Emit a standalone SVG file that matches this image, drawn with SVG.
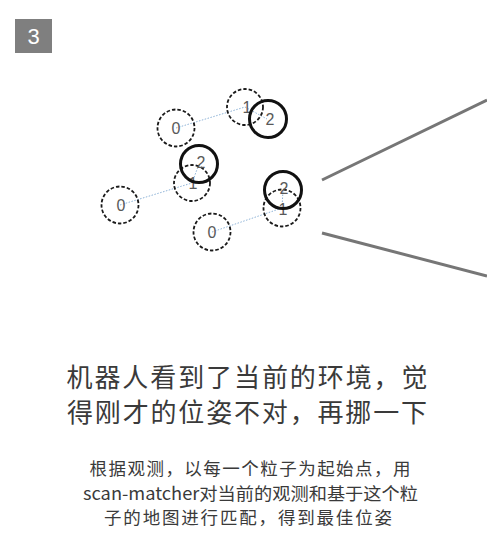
<svg xmlns="http://www.w3.org/2000/svg" width="487" height="553" viewBox="0 0 487 553">
<style>
.dash{fill:none;stroke:#1a1a1a;stroke-width:1.8;stroke-dasharray:3.5 2}
.solid{fill:none;stroke:#111;stroke-width:3}
.lbl{font-family:"Liberation Sans","Noto Sans",sans-serif;font-size:16px;fill:#595959;text-anchor:middle}
.link{stroke:#8fb4d8;stroke-width:1;stroke-dasharray:1.5 1.5;fill:none}
.ray{stroke:#767676;stroke-width:3;fill:none}
.title{font-family:"Noto Sans CJK SC",sans-serif;font-size:26px;fill:#3a3a3a;text-anchor:middle}
.sub{font-family:"Noto Sans CJK SC",sans-serif;font-size:17.5px;fill:#3a3a3a;text-anchor:middle}
</style>
<rect width="487" height="553" fill="#fff"/>
<g id="step-badge">
<rect x="15" y="19" width="37" height="34" fill="#7f7f7f"/>
<text x="33.5" y="44" font-family="Liberation Sans,sans-serif" font-size="22" fill="#fff" text-anchor="middle">3</text>
</g>
<g id="connectors">
<line class="link" x1="176" y1="128" x2="245" y2="107"/>
<line class="link" x1="245" y1="107" x2="267" y2="119"/>
<line class="link" x1="120" y1="205" x2="192" y2="183"/>
<line class="link" x1="192" y1="183" x2="199" y2="164"/>
<line class="link" x1="212" y1="232" x2="282" y2="208"/>
<line class="link" x1="282" y1="208" x2="283" y2="190"/>
<line class="ray" x1="322" y1="180" x2="487" y2="100"/>
<line class="ray" x1="322" y1="233" x2="487" y2="276"/>
</g>
<g id="particle-a">
<circle class="dash" cx="176" cy="128" r="18.5"/>
<text class="lbl" x="176" y="134">0</text>
<circle class="dash" cx="245" cy="107" r="18"/>
<text class="lbl" x="247" y="113">1</text>
<circle class="solid" cx="268" cy="119" r="18.5"/>
<text class="lbl" x="270" y="125">2</text>
</g>
<g id="particle-b">
<circle class="dash" cx="120" cy="205" r="18.5"/>
<text class="lbl" x="121" y="211">0</text>
<circle class="dash" cx="192" cy="183" r="18"/>
<text class="lbl" x="193" y="189">1</text>
<circle class="solid" cx="199" cy="164" r="18.5"/>
<text class="lbl" x="201" y="168">2</text>
</g>
<g id="particle-c">
<circle class="dash" cx="212" cy="232" r="18.5"/>
<text class="lbl" x="212" y="238">0</text>
<circle class="dash" cx="282" cy="208" r="18.5"/>
<text class="lbl" x="283" y="215">1</text>
<circle class="solid" cx="283" cy="190" r="18.5"/>
<text class="lbl" x="284" y="194">2</text>
</g>
<g id="title">
<text class="title" x="247" y="387" textLength="361" lengthAdjust="spacing">机器人看到了当前的环境，觉</text>
<text class="title" x="247" y="422" textLength="360" lengthAdjust="spacing">得刚才的位姿不对，再挪一下</text>
</g>
<g id="description">
<text class="sub" x="250" y="475" textLength="321" lengthAdjust="spacing">根据观测，以每一个粒子为起始点，用</text>
<text class="sub" x="250.5" y="500" textLength="335" lengthAdjust="spacingAndGlyphs">scan-matcher对当前的观测和基于这个粒</text>
<text class="sub" x="248" y="524" textLength="288" lengthAdjust="spacing">子的地图进行匹配，得到最佳位姿</text>
</g>
</svg>
